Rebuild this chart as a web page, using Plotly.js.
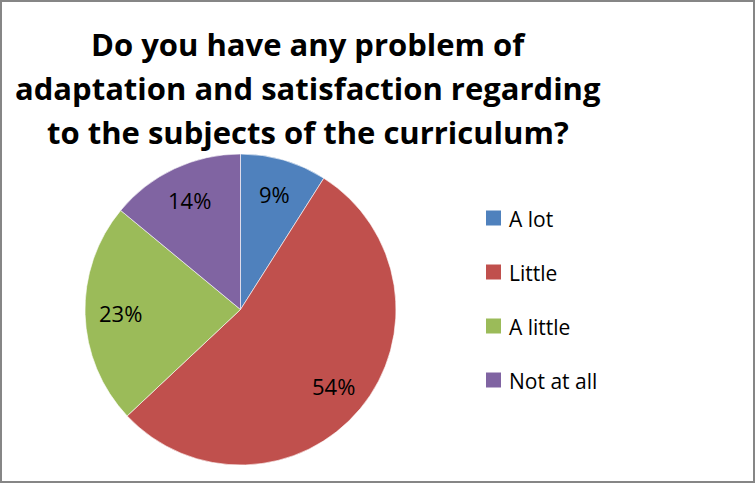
<!DOCTYPE html>
<html>
<head>
<meta charset="utf-8">
<script src="https://cdn.plot.ly/plotly-3.0.1.min.js"></script>
<style>
  html, body { margin: 0; padding: 0; background: #fff; }
  #wrap { position: relative; width: 755px; height: 483px; }
  #chart { position: absolute; left: 0; top: 0; width: 755px; height: 483px; }
  #frame { position: absolute; left: 0; top: 0; width: 755px; height: 483px; box-sizing: border-box; border: 2px solid #868686; pointer-events: none; }
</style>
</head>
<body>
<div id="wrap"><div id="chart"></div><div id="frame"></div></div>
<script>
const categories = ["A lot", "Little", "A little", "Not at all"];
const values = [9, 54, 23, 14];
const colors = ["#4F81BD", "#C0504D", "#9BBB59", "#8064A2"];
const titleLines = [
  "Do you have any problem of",
  "adaptation and satisfaction regarding",
  "to the subjects of the curriculum?"
];

const W = 755, H = 483;
const FONT = "'Open Sans', 'Liberation Sans', sans-serif";

// pie geometry (pixels)
const cx = 240.5, cy = 309.5, R = 155.5;

const shapes = [];
const annotations = [];

// title lines
titleLines.forEach((t, i) => {
  annotations.push({
    xref: "paper", yref: "paper", x: 308 / W, y: 1 - (44 + i * 44) / H,
    xanchor: "center", yanchor: "middle", showarrow: false,
    text: "<b>" + t + "</b>",
    font: { family: FONT, size: 31, color: "#000" }
  });
});

// percentage labels placed at a fixed fraction of the radius, like the original
const total = values.reduce((a, b) => a + b, 0);
let cum = 0;
values.forEach((v, i) => {
  const mid = (cum + v / 2) / total * 2 * Math.PI; // clockwise from 12 o'clock
  cum += v;
  const r = 0.775 * R;
  const px = cx + r * Math.sin(mid);
  const py = cy - r * Math.cos(mid);
  annotations.push({
    xref: "paper", yref: "paper", x: px / W, y: 1 - py / H,
    xanchor: "center", yanchor: "middle", showarrow: false,
    text: Math.round(v / total * 100) + "%",
    font: { family: FONT, size: 22, color: "#000" }
  });
});

// manual legend (larger swatches, wide spacing like the original)
const legX = 486, legSize = 15, legY0 = 218, legStep = 54;
categories.forEach((c, i) => {
  const ly = legY0 + i * legStep;
  shapes.push({
    type: "rect", xref: "paper", yref: "paper",
    x0: legX / W, x1: (legX + legSize) / W,
    y0: 1 - (ly + legSize / 2) / H, y1: 1 - (ly - legSize / 2) / H,
    fillcolor: colors[i], line: { width: 0 }
  });
  annotations.push({
    xref: "paper", yref: "paper", x: 507 / W, y: 1 - (ly + 1) / H,
    xanchor: "left", yanchor: "middle", showarrow: false,
    text: c, font: { family: FONT, size: 21, color: "#000" }
  });
});

const data = [{
  type: "pie",
  labels: categories,
  values: values,
  sort: false,
  direction: "clockwise",
  rotation: 0,
  marker: { colors: colors, line: { color: "#ffffff", width: 0.6 } },
  textinfo: "none",
  hoverinfo: "label+percent",
  showlegend: false,
  domain: { x: [(cx - R) / W, (cx + R) / W], y: [1 - (cy + R) / H, 1 - (cy - R) / H] }
}];

const layout = {
  width: W, height: H,
  margin: { l: 0, r: 0, t: 0, b: 0 },
  paper_bgcolor: "#fff",
  showlegend: false,
  shapes: shapes,
  annotations: annotations
};

Plotly.newPlot("chart", data, layout, { displayModeBar: false, staticPlot: true });
</script>
</body>
</html>
